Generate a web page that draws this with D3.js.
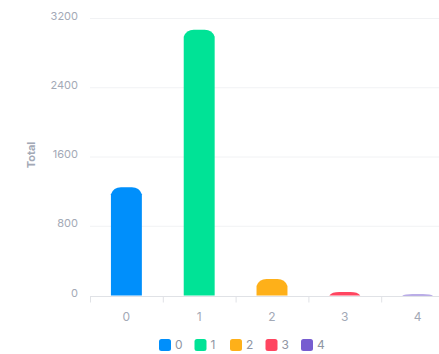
<!DOCTYPE html>
<html><head><meta charset="utf-8">
<script src="https://cdn.jsdelivr.net/npm/d3@7"></script>
<style>body{margin:0;background:#fff;}svg{display:block;font-family:Inter,"Noto Sans",sans-serif;}</style>
</head><body><svg id="c" width="439" height="354"></svg>
<script>
const categories = ["0","1","2","3","4"];
const values = [1250, 3070, 190, 40, 12];
const colors = ["#008FFB","#00E396","#FEB019","#FF4560","#775DD0"];
const yTicks = [0, 800, 1600, 2400, 3200];
const yTitle = "Total";

const svg = d3.select("#c");
const x = d3.scaleBand().domain(categories).range([90, 454]).paddingInner(0.575).paddingOuter(0.2875);
const xb = d3.scaleBand().domain(categories).range([90, 454]);
const y = d3.scaleLinear().domain([0, 3200]).range([295.5, 18.5]);

// gridlines
svg.append("g").selectAll("line").data(yTicks.slice(1)).join("line")
  .attr("x1", 90).attr("x2", 439).attr("y1", d => y(d)).attr("y2", d => y(d))
  .attr("stroke", "#f1f2f4").attr("stroke-width", 1);

// y labels
svg.append("g").selectAll("text").data(yTicks).join("text")
  .attr("x", 78).attr("y", d => y(d) - 2).attr("text-anchor", "end").attr("dominant-baseline", "middle")
  .attr("fill", "#a3a9b6").attr("font-size", 11).text(d => d);

// y title
svg.append("text").attr("transform", "translate(32,155) rotate(-90)")
  .attr("text-anchor", "middle").attr("dominant-baseline", "middle")
  .attr("fill", "#a3a9b6").attr("font-size", 11).attr("font-weight", 700).text(yTitle);

// bars with rounded top
function barPath(x0, w, yTop, yBase) {
  const h = yBase - yTop;
  const rx = Math.min(w / 2, 10);
  const ry = Math.min(h, 7);
  return `M${x0},${yBase}L${x0},${yTop + ry}` +
    `Q${x0 + rx * 0.25},${yTop} ${x0 + rx},${yTop}` +
    `L${x0 + w - rx},${yTop}` +
    `Q${x0 + w - rx * 0.25},${yTop} ${x0 + w},${yTop + ry}` +
    `L${x0 + w},${yBase}Z`;
}
svg.append("g").selectAll("path").data(categories).join("path")
  .attr("d", (c, i) => barPath(x(c), x.bandwidth(), y(values[i]), y(0)))
  .attr("fill", (c, i) => colors[i]);

// x axis line and ticks
const axisY = 296.5;
svg.append("line").attr("x1", 90).attr("x2", 439).attr("y1", axisY).attr("y2", axisY)
  .attr("stroke", "#e0e2e6");
svg.append("g").selectAll("line").data(categories).join("line")
  .attr("x1", c => xb(c) + 0.5).attr("x2", c => xb(c) + 0.5).attr("y1", axisY).attr("y2", axisY + 6)
  .attr("stroke", "#e0e2e6");
svg.append("g").selectAll("text").data(categories).join("text")
  .attr("x", c => x(c) + x.bandwidth() / 2).attr("y", 318).attr("text-anchor", "middle")
  .attr("dominant-baseline", "middle").attr("fill", "#a3a9b6").attr("font-size", 12).text(c => c);

// legend
const lg = svg.append("g").selectAll("g").data(categories).join("g")
  .attr("transform", (c, i) => `translate(${159 + i * 35.5},345)`);
lg.append("rect").attr("x", 0).attr("y", -6).attr("width", 12).attr("height", 12).attr("rx", 2.5)
  .attr("fill", (c, i) => colors[i]);
lg.append("text").attr("x", 16).attr("y", 0.5).attr("dominant-baseline", "middle")
  .attr("fill", "#8f95a3").attr("font-size", 12).text(c => c);
</script></body></html>
